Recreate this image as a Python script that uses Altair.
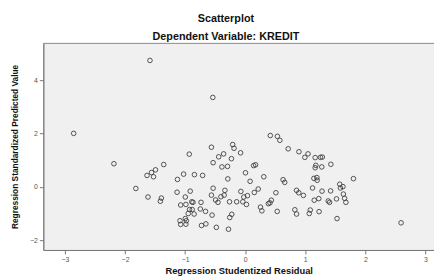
import altair as alt
import pandas as pd

resid = [-1.585, -0.539, -2.855, -0.931, -0.562, 0.418, 0.536, 0.577, -0.208, -0.186,
         0.716, -0.359, -0.077, 0.895, 1.046, 0.993, 1.165, 1.252, 1.284, -0.229,
         -0.441, -0.534, -0.387, -0.294, -2.185, -1.356, -1.493, -1.559, -1.634, -1.526,
         -1.820, -1.127, -1.025, -0.845, -0.709, -1.134, -0.915, -1.618, -1.395, -1.412,
         -0.997, -1.074, -0.987, -0.889, -0.869, -0.735, -0.926, -0.882, -0.747, -0.660,
         -0.948, -0.850, -1.085, -0.997, -0.980, -1.074, -0.987, -0.727, -0.654, -0.534,
         -0.562, -0.493, -0.453, -0.551, -0.480, 0.005, 0.141, 0.173, -0.289, 0.082,
         0.310, 0.631, 0.658, -0.338, -0.404, -0.350, -0.261, -0.142, -0.072, 0.038,
         -0.023, -0.039, 0.021, 0.152, 0.217, 0.511, 0.435, 0.413, 0.386, 0.255,
         0.278, 0.533, 0.855, 0.892, 0.969, 0.827, 0.855, -0.224, -0.257, -0.278,
         1.426, 1.176, 1.165, 1.275, 1.144, 1.193, 1.198, 1.802, 1.574, 1.585,
         1.627, 1.121, 1.279, 1.422, 1.634, 1.655, 1.676, 1.520, 1.225, 1.149,
         1.382, 1.405, 1.083, 1.067, 1.230, 1.529, 2.595]
pred = [4.75, 3.36, 2.01, 1.23, 1.49, 1.93, 1.90, 1.75, 1.59, 1.45,
        1.43, 1.24, 1.28, 1.32, 1.24, 1.11, 1.10, 1.11, 1.12, 1.06,
        1.13, 0.91, 0.75, 0.77, 0.87, 0.84, 0.64, 0.54, 0.43, 0.38,
        -0.06, 0.28, 0.48, 0.46, 0.43, -0.20, -0.16, -0.38, -0.42, -0.54,
        -0.38, -0.68, -0.66, -0.56, -0.58, -0.58, -0.85, -0.85, -0.83, -0.92,
        -1.00, -1.02, -1.27, -1.19, -1.27, -1.41, -1.40, -1.45, -1.39, -0.05,
        -0.31, -0.49, -0.58, -1.06, -1.52, 0.53, 0.80, 0.83, 0.30, 0.21,
        0.38, 0.27, 0.17, -0.13, -0.37, -0.31, -0.56, -0.56, -0.17, -0.33,
        -0.38, -0.56, -0.66, -0.21, -0.08, -0.22, -0.50, -0.60, -0.63, -0.76,
        -0.90, -0.92, -0.13, -0.22, -0.32, -0.86, -1.02, -1.03, -1.15, -1.59,
        0.85, 0.81, 0.72, 0.75, 0.32, 0.35, 0.25, 0.31, 0.10, -0.04,
        0.01, -0.04, -0.16, -0.15, -0.27, -0.43, -0.58, -0.45, -0.44, -0.50,
        -0.53, -0.58, -0.87, -1.00, -0.93, -1.19, -1.35]

x_ticks = [-3, -2, -1, 0, 1, 2, 3]
y_ticks = [-2, 0, 2, 4]

df = pd.DataFrame({"resid": resid, "pred": pred})

chart = alt.Chart(df).mark_point(
    shape="circle", filled=False, size=22, stroke="#404040", strokeWidth=0.9, opacity=1
).encode(
    x=alt.X("resid:Q", scale=alt.Scale(domain=[-3.36, 3.143], nice=False, zero=False),
            axis=alt.Axis(values=x_ticks, title="Regression Studentized Residual",
                          grid=False, titleFontSize=9.5, titleFontWeight="bold",
                          titleFont="Liberation Sans", titleColor="#111",
                          labelFont="Liberation Sans", labelFontSize=7, labelColor="#555",
                          tickSize=4, tickColor="#777", domainColor="#777",
                          titlePadding=3, labelPadding=2)),
    y=alt.Y("pred:Q", scale=alt.Scale(domain=[-2.37, 5.41], nice=False, zero=False),
            axis=alt.Axis(values=y_ticks, title="Regression Standardized Predicted Value",
                          grid=False, titleFontSize=8.5, titleFontWeight="bold",
                          titleFont="Liberation Sans", titleColor="#111",
                          labelFont="Liberation Sans", labelFontSize=7, labelColor="#555",
                          tickSize=4, tickColor="#777", domainColor="#777",
                          titlePadding=10, labelPadding=2)),
).properties(
    width=398, height=211,
    title=alt.TitleParams(text="Scatterplot", subtitle="Dependent Variable: KREDIT",
                          font="Liberation Sans", fontSize=11, fontWeight="bold", color="#111",
                          subtitleFont="Liberation Sans", subtitleFontSize=11,
                          subtitleFontWeight="bold", subtitleColor="#111",
                          anchor="middle", dx=-13, offset=1, subtitlePadding=7),
    autosize=alt.AutoSizeParams(type="none"),
    padding={"left": 36, "top": 33, "right": 0, "bottom": 25},
).configure_view(
    fill="#f0f0f0", stroke="#888", strokeWidth=1
)

chart.save("out.html", embed_options={"renderer": "svg", "actions": False})
